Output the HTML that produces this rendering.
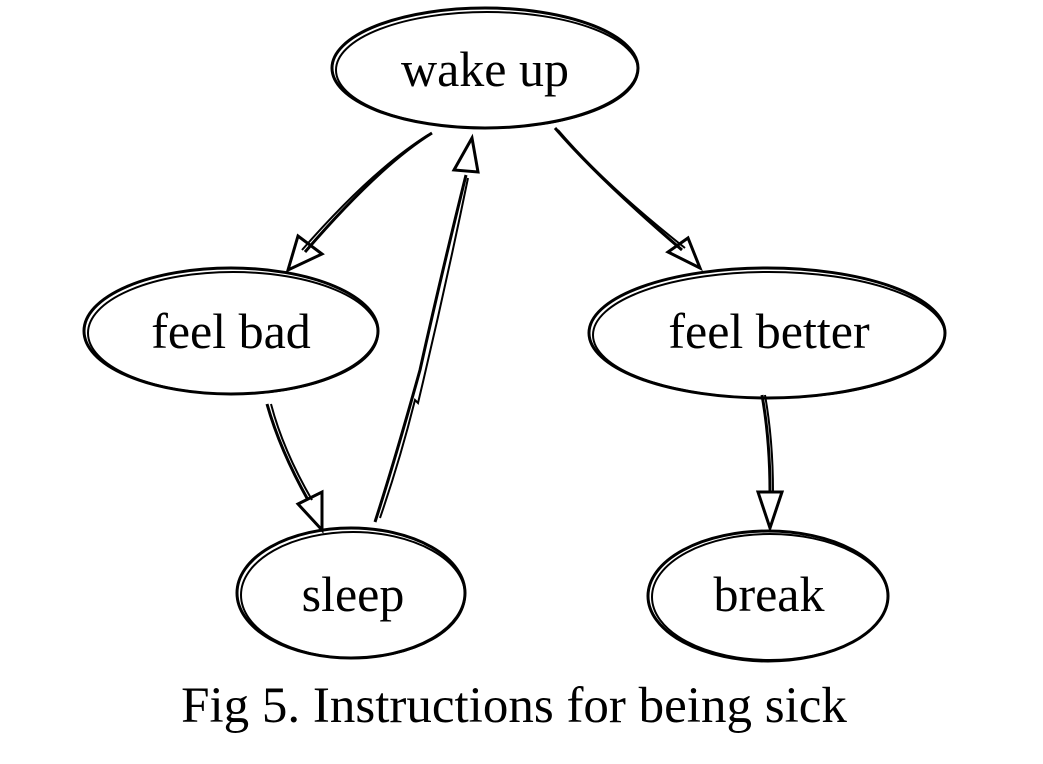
<!DOCTYPE html>
<html><head><meta charset="utf-8"><style>
html,body{margin:0;padding:0;background:#fff;}
svg{display:block;}
text{font-family:"Liberation Serif",serif;fill:#000;}
</style></head><body>
<svg width="1043" height="764" viewBox="0 0 1043 764" xmlns="http://www.w3.org/2000/svg">
<g fill="none" stroke="#000" stroke-width="3">
<ellipse cx="485" cy="68" rx="153" ry="60"/>
<ellipse cx="487" cy="70" rx="151" ry="58" stroke-width="2"/>
<ellipse cx="231" cy="331" rx="147" ry="63"/>
<ellipse cx="233" cy="333" rx="145" ry="61" stroke-width="2"/>
<ellipse cx="767" cy="333" rx="178" ry="65"/>
<ellipse cx="769" cy="335" rx="176" ry="63" stroke-width="2"/>
<ellipse cx="351" cy="593" rx="114" ry="65"/>
<ellipse cx="353" cy="595" rx="112" ry="63" stroke-width="2"/>
<ellipse cx="768" cy="596" rx="120" ry="65"/>
<ellipse cx="770" cy="597" rx="118" ry="63" stroke-width="2"/>

<path d="M432 133 Q380 165 305 252"/>
<path d="M428 135 Q372 170 302 250" stroke-width="2"/>
<polygon points="288,270 298,236 322,254"/>
<path d="M555 128 Q600 180 682 250"/>
<path d="M558 130 Q605 185 685 248" stroke-width="2"/>
<polygon points="700,268 668,252 688,238"/>
<path d="M267 404 Q280 450 308 500"/>
<path d="M271 404 Q283 450 312 500" stroke-width="2"/>
<polygon points="322,530 298,504 322,492"/>
<path d="M762 395 Q770 440 770 492"/>
<path d="M765 395 Q773 440 773 492" stroke-width="2"/>
<polygon points="770,528 758,492 782,492"/>
<path d="M375 522 Q395 460 420 370 Q440 280 466 175"/>
<path d="M380 518 Q400 460 415 400 L418 403 Q445 290 468 178" stroke-width="2"/>
<polygon points="472,138 454,170 478,172"/>
</g>
<text x="485" y="86" font-size="50" text-anchor="middle">wake up</text>
<text x="231" y="348" font-size="50" text-anchor="middle">feel bad</text>
<text x="769" y="348" font-size="50" text-anchor="middle">feel better</text>
<text x="353" y="611" font-size="50" text-anchor="middle">sleep</text>
<text x="769" y="611" font-size="50" text-anchor="middle">break</text>
<text x="514" y="722" font-size="51" text-anchor="middle">Fig 5. Instructions for being sick</text>
</svg>
</body></html>
